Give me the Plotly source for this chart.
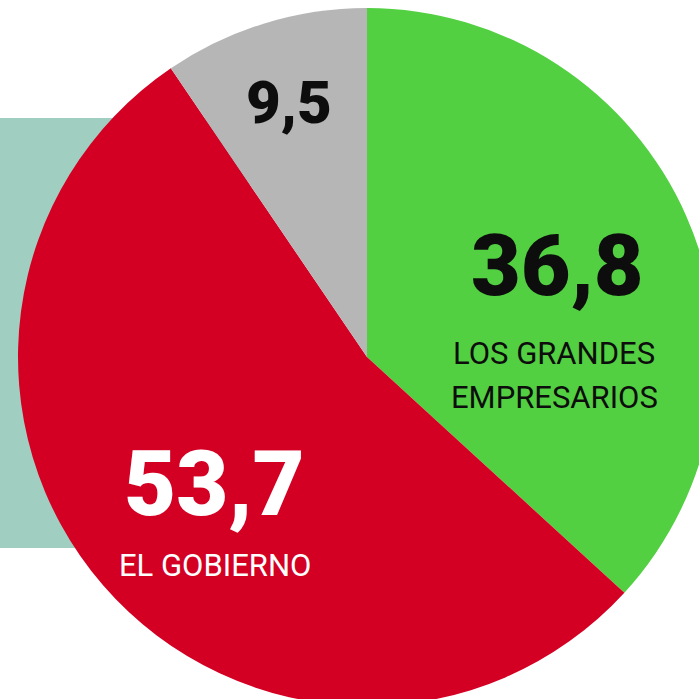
import plotly.graph_objects as go

# Data
categories = ["LOS GRANDES EMPRESARIOS", "EL GOBIERNO", "OTROS"]
values = [36.8, 53.7, 9.5]
value_labels = ["36,8", "53,7", "9,5"]
name_lines = [["LOS GRANDES", "EMPRESARIOS"], ["EL GOBIERNO"], []]
colors = ["#52d042", "#d40024", "#b6b6b6"]

W, H = 716, 706
FONT = "Roboto, Liberation Sans Narrow, DejaVu Sans Condensed, sans-serif"

def px(x):
    return x / W

def py(y):
    return 1 - y / H

fig = go.Figure()
fig.add_trace(go.Pie(
    labels=categories,
    values=values,
    marker=dict(colors=colors, line=dict(width=0)),
    sort=False,
    direction="clockwise",
    rotation=0,
    textinfo="none",
    hoverinfo="label+value",
    showlegend=False,
    domain=dict(x=[px(18), 1], y=[0, py(8)]),
))

# teal background panel
fig.add_shape(type="rect", xref="paper", yref="paper",
              x0=0, x1=px(250), y0=py(548), y1=py(118),
              fillcolor="#a0cec0", line=dict(width=0), layer="below")

ann = [
    # value labels
    dict(text=value_labels[0], x=px(557), y=py(265), size=86, color="#0d0d0d", weight=900),
    dict(text=value_labels[1], x=px(214), y=py(484), size=90, color="#ffffff", weight=900),
    dict(text=value_labels[2], x=px(289), y=py(102), size=60, color="#0d0d0d", weight=900),
    # name labels
    dict(text=name_lines[0][0], x=px(554), y=py(353), size=31, color="#0d0d0d", weight=400),
    dict(text=name_lines[0][1], x=px(554), y=py(398), size=31, color="#0d0d0d", weight=400),
    dict(text=name_lines[1][0], x=px(215), y=py(565), size=31, color="#ffffff", weight=400),
]
for a in ann:
    fig.add_annotation(text=a["text"], x=a["x"], y=a["y"], xref="paper", yref="paper",
                       xanchor="center", yanchor="middle", showarrow=False,
                       font=dict(family=FONT, size=a["size"], color=a["color"],
                                 weight=a["weight"]))

fig.update_layout(
    width=W, height=H,
    margin=dict(l=0, r=0, t=0, b=0),
    paper_bgcolor="white",
    plot_bgcolor="white",
)

post = ("document.body.style.margin='0';document.body.style.overflow='hidden';"
        "document.documentElement.style.overflow='hidden';")
fig.write_html("out.html", post_script=post, config={"displayModeBar": False})
